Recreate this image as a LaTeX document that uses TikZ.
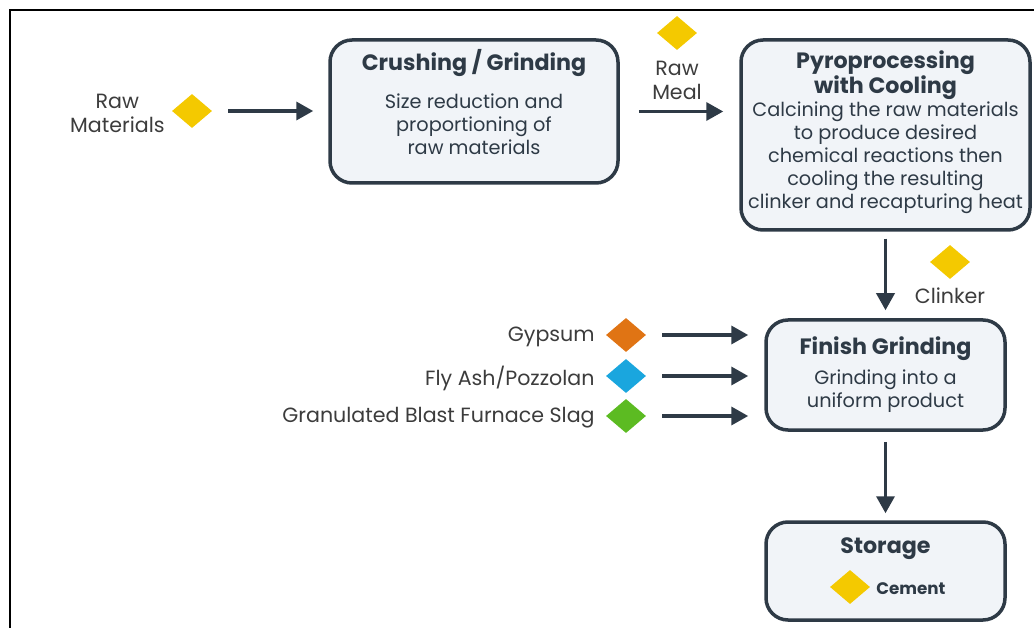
\documentclass[tikz,border=0pt]{standalone}
\usepackage{fontspec}
\setmainfont{Poppins}
\usetikzlibrary{shapes.geometric,arrows.meta,positioning}

\definecolor{edge}{HTML}{2E3A46}
\definecolor{boxfill}{HTML}{F1F4F8}
\definecolor{labelgray}{HTML}{3C3C3C}
\definecolor{gold}{HTML}{F4C900}
\definecolor{rust}{HTML}{E07414}
\definecolor{sky}{HTML}{1AA6DE}
\definecolor{leaf}{HTML}{5CBB22}

\newcommand{\ttl}[1]{{\fontsize{22.2}{26}\selectfont\bfseries #1}}

\tikzset{
  stage/.style={draw=edge, line width=3.5pt, fill=boxfill, rounded corners=22pt,
    align=center, text=edge, inner sep=0pt, font=\fontsize{19.3}{23}\selectfont},
  gem/.style={diamond, fill=#1, minimum width=40pt, minimum height=34pt, inner sep=0pt},
  flow/.style={draw=edge, line width=3.5pt, -{Triangle[length=17pt,width=18pt]}},
  tag/.style={text=labelgray, align=center, inner sep=0pt, yshift=-2pt, font=\fontsize{20.6}{24}\selectfont}
}

\begin{document}
\begin{tikzpicture}[x=1pt,y=-1pt]
    \useasboundingbox (0,0) rectangle (1034,628);
    \draw[line width=2pt] (10,628) -- (10,10) -- (1034,10);

    % process boxes
    \node[stage, minimum width=288pt, minimum height=143pt] (crush) at (474,111.5)
        {\ttl{Crushing / Grinding}\\[15pt]Size reduction and\\proportioning of\\raw materials\\[-4pt]\mbox{}};
    \node[stage, minimum width=289pt, minimum height=190pt] (pyro) at (885.5,135)
        {\ttl{Pyroprocessing}\\\ttl{with Cooling}\\Calcining the raw materials\\to produce desired\\chemical reactions then\\cooling the resulting\\clinker and recapturing heat\\[-12pt]\mbox{}};
    \node[stage, minimum width=239pt, minimum height=110pt] (fin) at (885.5,375)
        {\ttl{Finish Grinding}\\[7pt]Grinding into a\\uniform product};
    \node[stage, minimum width=239pt, minimum height=98pt] (stor) at (885.5,571)
        {\ttl{Storage}\\[28pt]};

    % materials
    \node[gem=gold] (rawdia) at (192,111) {};
    \node[tag, left=7pt of rawdia] (rawtxt) {Raw\\Materials};
    \node[gem=gold] (mealdia) at (677,33) {};
    \node[tag, below=9pt of mealdia] (mealtxt) {Raw\\Meal};
    \node[gem=gold] (clkdia) at (950,262) {};
    \node[tag, below=6pt of clkdia] (clktxt) {Clinker};
    \node[gem=rust] (gypdia) at (626,335) {};
    \node[tag, left=11pt of gypdia] (gyptxt) {Gypsum};
    \node[gem=sky] (ashdia) at (626,376) {};
    \node[tag, left=11pt of ashdia] (ashtxt) {Fly Ash/Pozzolan};
    \node[gem=leaf] (slagdia) at (626,416) {};
    \node[tag, left=11pt of slagdia] (slagtxt) {Granulated Blast Furnace Slag};
    \node[gem=gold] (cemdia) at (850,587) {};
    \node[tag, right=6pt of cemdia, text=edge, font=\fontsize{16.7}{20}\selectfont\bfseries] (cemtxt) {Cement};

    % arrows
    \draw[flow, shorten <=16pt, shorten >=15pt] (rawdia.east) -- (rawdia -| crush.west);
    \draw[flow, shorten <=19pt, shorten >=16pt] (crush.east) -- (crush.east -| pyro.west);
    \draw[flow, shorten <=7pt, shorten >=8pt] (pyro.south) -- (fin.north);
    \draw[flow, shorten <=16pt, shorten >=16pt] (gypdia.east) -- (gypdia -| fin.west);
    \draw[flow, shorten <=16pt, shorten >=16pt] (ashdia.east) -- (ashdia -| fin.west);
    \draw[flow, shorten <=16pt, shorten >=16pt] (slagdia.east) -- (slagdia -| fin.west);
    \draw[flow, shorten <=10pt, shorten >=7pt] (fin.south) -- (stor.north);
\end{tikzpicture}
\end{document}
